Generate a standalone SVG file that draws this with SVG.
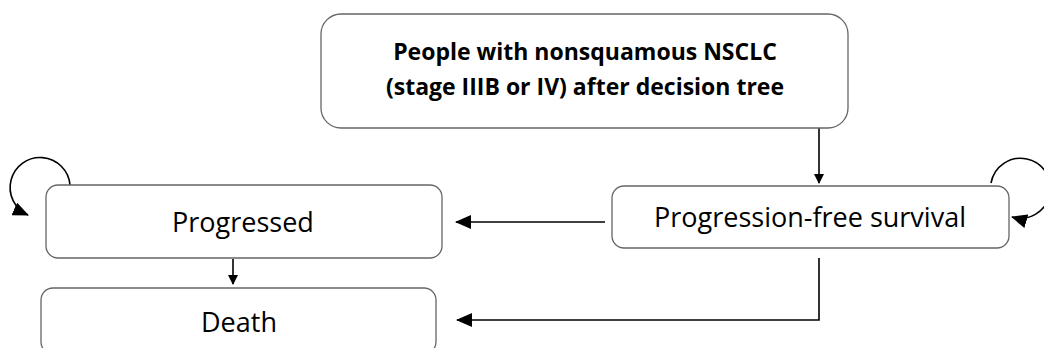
<svg xmlns="http://www.w3.org/2000/svg" width="1044" height="348" viewBox="0 0 1044 348">
<style>
.box{fill:#fff;stroke:#666;stroke-width:1.3}
.t{font-family:"Open Sans","Liberation Sans",sans-serif;fill:#000;text-anchor:middle}
.c{fill:none;stroke:#000;stroke-width:1.6}
</style>
<defs>
<marker id="ah" viewBox="0 0 10 10" refX="9" refY="5" markerWidth="10" markerHeight="10" markerUnits="userSpaceOnUse" orient="auto">
<path d="M0,0 L10,5 L0,10 z" fill="#000"/>
</marker>
<marker id="ahb" viewBox="0 0 16 14" refX="15" refY="7" markerWidth="16" markerHeight="14" markerUnits="userSpaceOnUse" orient="auto">
<path d="M0,0 L16,7 L0,14 z" fill="#000"/>
</marker>
</defs>
<g id="connectors">
<path class="c" d="M819,128 V183" marker-end="url(#ah)"/>
<path class="c" d="M605,222 H456" marker-end="url(#ahb)"/>
<path class="c" d="M819,258 V320 H457" marker-end="url(#ahb)"/>
<path class="c" d="M233,259 V284" marker-end="url(#ah)"/>
<path class="c" d="M70,185 A30,30 0 1 0 28,215" marker-end="url(#ahb)"/>
<path class="c" d="M991,183 A30,30 0 1 1 1012,217" marker-end="url(#ahb)"/>
</g>
<g id="start">
<rect class="box" x="321" y="14" width="527" height="114" rx="20"/>
<text class="t" x="585" y="60" font-size="23" font-weight="bold">People with nonsquamous NSCLC</text>
<text class="t" x="585" y="95" font-size="23" font-weight="bold">(stage IIIB or IV) after decision tree</text>
</g>
<g id="progressed">
<rect class="box" x="46" y="185" width="396" height="73" rx="12"/>
<text class="t" x="243" y="232" font-size="27">Progressed</text>
</g>
<g id="pfs">
<rect class="box" x="612" y="186" width="397" height="62" rx="12"/>
<text class="t" x="810" y="227" font-size="27">Progression-free survival</text>
</g>
<g id="death">
<rect class="box" x="41" y="288" width="395" height="66" rx="12"/>
<text class="t" x="239" y="332" font-size="27">Death</text>
</g>
</svg>
